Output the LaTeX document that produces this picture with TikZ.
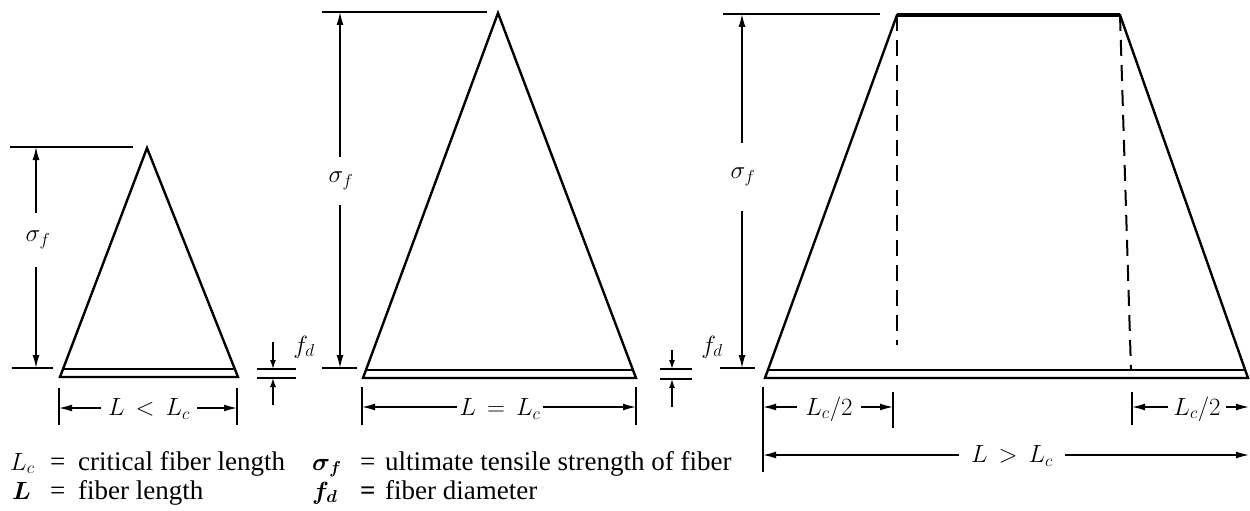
\documentclass[tikz,border=0pt]{standalone}
\usepackage{bm}
\usepackage{fontspec}
\setmainfont{Liberation Serif}
\usetikzlibrary{arrows.meta}
\begin{document}
\begin{tikzpicture}[x=1pt,y=-1pt,
  fiber/.style={line width=2.4pt, line join=miter},
  inner/.style={line width=2pt},
  refl/.style={line width=1.6pt},
  tickl/.style={line width=2.2pt},
  dim/.style={line width=1.4pt,-{Latex[length=13pt,width=7pt]}},
  sdim/.style={line width=1.4pt,-{Latex[length=9pt,width=6pt]}},
  dsh/.style={line width=2pt, dash pattern=on 16pt off 9pt},
  lab/.style={font=\fontsize{25}{28}\selectfont, inner sep=0pt},
  sig/.style={font=\fontsize{23}{26}\selectfont, inner sep=0pt},
  fdl/.style={font=\fontsize{27}{30}\selectfont, inner sep=0pt},
  leg/.style={font=\fontsize{27}{30}\selectfont, anchor=base west, inner sep=0pt}]
\useasboundingbox (0,0) rectangle (1250,511);

% ---------- left triangle ----------
\coordinate (A1) at (60,377); \coordinate (A2) at (147,148); \coordinate (A3) at (238,377);
\draw[fiber] (A1) -- (A2) -- (A3) -- cycle;
\coordinate (A1i) at (63,369); \coordinate (A3i) at (235,369);
\draw[inner] (A1i) -- (A3i);
\coordinate (rA1) at (10,147); \coordinate (rA2) at (133,147);
\coordinate (rA3) at (12,368); \coordinate (rA4) at (53,368);
\draw[refl] (rA1) -- (rA2); \draw[refl] (rA3) -- (rA4);
\node[sig, minimum height=54pt] (sA) at (38,240) {$\sigma_f$};
\coordinate (sAt) at (36,147); \coordinate (sAb) at (36,368);
\draw[dim] (sA.north -| sAt) -- (sAt); \draw[dim] (sA.south -| sAb) -- (sAb);
\coordinate (tA1a) at (59,388); \coordinate (tA1b) at (59,425);
\coordinate (tA2a) at (237,388); \coordinate (tA2b) at (237,425);
\draw[tickl] (tA1a) -- (tA1b); \draw[tickl] (tA2a) -- (tA2b);
\node[lab, minimum width=96pt] (lA) at (149,409) {$L\,<\,L_c$};
\coordinate (dA1) at (59,408); \coordinate (dA2) at (237,408);
\draw[dim] (lA.west |- dA1) -- (dA1); \draw[dim] (lA.east |- dA2) -- (dA2);

% fd marker left
\coordinate (fA1) at (257,369); \coordinate (fA2) at (296,369);
\coordinate (fA3) at (257,378); \coordinate (fA4) at (296,378);
\draw[refl] (fA1) -- (fA2); \draw[refl] (fA3) -- (fA4);
\coordinate (fAu) at (273,342); \coordinate (fAl) at (273,405);
\coordinate (fAut) at (273,369); \coordinate (fAlt) at (273,378);
\draw[sdim] (fAu) -- (fAut); \draw[sdim] (fAl) -- (fAlt);
\node[fdl] (fdA) at (304,347) {$f_d$};

% ---------- middle triangle ----------
\coordinate (B1) at (363,378); \coordinate (B2) at (498,13); \coordinate (B3) at (636,378);
\draw[fiber] (B1) -- (B2) -- (B3) -- cycle;
\coordinate (B1i) at (366,370); \coordinate (B3i) at (633,370);
\draw[inner] (B1i) -- (B3i);
\coordinate (rB1) at (322,12); \coordinate (rB2) at (487,12);
\coordinate (rB3) at (322,368); \coordinate (rB4) at (357,368);
\draw[refl] (rB1) -- (rB2); \draw[refl] (rB3) -- (rB4);
\node[sig, minimum height=48pt] (sB) at (341,181) {$\sigma_f$};
\coordinate (sBt) at (340,12); \coordinate (sBb) at (340,368);
\draw[dim] (sB.north -| sBt) -- (sBt); \draw[dim] (sB.south -| sBb) -- (sBb);
\coordinate (tB1a) at (362,387); \coordinate (tB1b) at (362,425);
\coordinate (tB2a) at (636,387); \coordinate (tB2b) at (636,425);
\draw[tickl] (tB1a) -- (tB1b); \draw[tickl] (tB2a) -- (tB2b);
\node[lab, minimum width=86pt] (lB) at (500,409) {$L\,=\,L_c$};
\coordinate (dB1) at (362,407); \coordinate (dB2) at (636,407);
\draw[dim] (lB.west |- dB1) -- (dB1); \draw[dim] (lB.east |- dB2) -- (dB2);

% fd marker right
\coordinate (fB1) at (660,369); \coordinate (fB2) at (692,369);
\coordinate (fB3) at (660,379); \coordinate (fB4) at (692,379);
\draw[refl] (fB1) -- (fB2); \draw[refl] (fB3) -- (fB4);
\coordinate (fBu) at (672,350); \coordinate (fBl) at (672,407);
\coordinate (fBut) at (672,369); \coordinate (fBlt) at (672,379);
\draw[sdim] (fBu) -- (fBut); \draw[sdim] (fBl) -- (fBlt);

% ---------- right trapezoid ----------
\coordinate (C1) at (765,378); \coordinate (C2) at (897,15);
\coordinate (C3) at (1120,15); \coordinate (C4) at (1248,378);
\draw[fiber] (C1) -- (C2) -- (C3) -- (C4) -- cycle;
\draw[line width=3.2pt] (C2) -- (C3);
\coordinate (C1i) at (768,370); \coordinate (C4i) at (1246,370);
\draw[inner] (C1i) -- (C4i);
\coordinate (D1b) at (897,345); \coordinate (D2b) at (1131,370);
\draw[dsh] (C2) -- (D1b); \draw[dsh] (C3) -- (D2b);
\coordinate (rC1) at (723,14); \coordinate (rC2) at (880,14);
\coordinate (rC3) at (720,368); \coordinate (rC4) at (755,368);
\draw[refl] (rC1) -- (rC2); \draw[refl] (rC3) -- (rC4);
\node[sig, minimum height=68pt] (sC) at (743,177) {$\sigma_f$};
\coordinate (sCt) at (742,14); \coordinate (sCb) at (742,368);
\draw[dim] (sC.north -| sCt) -- (sCt); \draw[dim] (sC.south -| sCb) -- (sCb);
\node[fdl] (fdC) at (712,347) {$f_d$};

\coordinate (tC1a) at (763,387); \coordinate (tC1b) at (763,472);
\coordinate (tC2a) at (893,392); \coordinate (tC2b) at (893,428);
\coordinate (tC3a) at (1132,392); \coordinate (tC3b) at (1132,425);
\draw[tickl] (tC1a) -- (tC1b); \draw[tickl] (tC2a) -- (tC2b); \draw[tickl] (tC3a) -- (tC3b);
\node[lab, minimum width=64pt] (lC1) at (829,409) {$L_c/2$};
\coordinate (dC1) at (763,407); \coordinate (dC2) at (893,407);
\draw[dim] (lC1.west |- dC1) -- (dC1); \draw[dim] (lC1.east |- dC2) -- (dC2);
\node[lab, minimum width=58pt] (lC2) at (1197,409) {$L_c/2$};
\coordinate (dC3) at (1132,407); \coordinate (dC4) at (1249,407);
\draw[dim] (lC2.west |- dC3) -- (dC3); \draw[dim] (lC2.east |- dC4) -- (dC4);
\node[lab, minimum width=106pt] (lC3) at (1012,456) {$L\,>\,L_c$};
\coordinate (dC5) at (763,455); \coordinate (dC6) at (1249,455);
\draw[dim] (lC3.west |- dC5) -- (dC5); \draw[dim] (lC3.east |- dC6) -- (dC6);

% ---------- legend ----------
\node[leg] (g1) at (10,470) {$L_c$};
\node[leg] (g2) at (50,470) {=};
\node[leg] (g3) at (78,470) {critical fiber length};
\node[leg] (g4) at (312,470) {$\bm{\sigma_{f}}$};
\node[leg] (g5) at (360,470) {=};
\node[leg] (g6) at (385,470) {ultimate tensile strength of fiber};
\node[leg] (g7) at (12,499) {$\bm{L}$};
\node[leg] (g8) at (50,499) {=};
\node[leg] (g9) at (78,499) {fiber length};
\node[leg] (g10) at (312,499) {$\bm{f_d}$};
\node[leg] (g11) at (360,499) {\textbf{=}};
\node[leg] (g12) at (385,499) {fiber diameter};
\end{tikzpicture}
\end{document}
